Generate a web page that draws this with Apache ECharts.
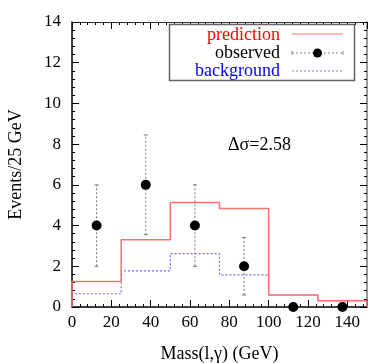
<!DOCTYPE html>
<html>
<head>
<meta charset="utf-8">
<script src="https://cdn.jsdelivr.net/npm/echarts@6/dist/echarts.min.js"></script>
<style>
  html, body { margin: 0; padding: 0; background: #fff; }
  .main { width: 374px; height: 363px; }
</style>
</head>
<body>
<div class="main"></div>
<script>
// bin left edges (GeV), last entry closes the histogram
var binEdges = [0, 25, 50, 75, 100, 125, 150];
var prediction = [1.25, 3.3, 5.13, 4.84, 0.59, 0.31];
var background = [0.65, 1.77, 2.62, 1.58, 0.59, 0.31];
var obsMass = [12.5, 37.5, 62.5, 87.5, 112.5, 137.5];
var observed = [4, 6, 4, 2, 0, 0];
var obsErr = [2, 2.45, 2, 1.41, 0, 0];

var FONT = 'Liberation Serif';

function histSteps(vals) {
    var pts = [[binEdges[0], 0]];
    for (var i = 0; i < vals.length; i++) pts.push([binEdges[i], vals[i]]);
    var last = binEdges[binEdges.length - 1];
    pts.push([last, vals[vals.length - 1]]);
    pts.push([last, 0]);
    return pts;
}

var obsData = obsMass.map(function (m, i) { return [m, observed[i]]; });
var errData = obsMass.map(function (m, i) {
    return [m, observed[i] - obsErr[i], observed[i] + obsErr[i]];
}).filter(function (d) { return d[2] > d[1]; });

var myChart = echarts.init(document.querySelector('.main'));

var tickStyle = {
    axisTick: { show: true, inside: true, length: 7, lineStyle: { color: '#000', width: 1 } },
    minorTick: { show: true, splitNumber: 5, length: 3, lineStyle: { color: '#000', width: 1 } },
    splitLine: { show: false }
};

function axis(extra) {
    return Object.assign({}, tickStyle, extra);
}

option = {
    animation: false,
    grid: { left: 72, right: 7, top: 22, bottom: 56, containLabel: false, outerBoundsMode: 'none' },
    xAxis: [
        axis({
            type: 'value', min: 0, max: 150, interval: 20,
            name: 'Mass(l,\u03b3) (GeV)', nameLocation: 'middle', nameGap: 38,
            nameTextStyle: { fontFamily: FONT, fontSize: 18, color: '#000' },
            axisLine: { show: true, onZero: false, lineStyle: { color: '#000', width: 1.5 } },
            axisLabel: { fontFamily: FONT, fontSize: 17, color: '#000', margin: 7, showMaxLabel: false }
        }),
        axis({
            type: 'value', min: 0, max: 150, interval: 20, position: 'top',
            axisLine: { show: true, onZero: false, lineStyle: { color: '#333', width: 1 } },
            axisLabel: { show: false }
        })
    ],
    yAxis: [
        axis({
            type: 'value', min: 0, max: 14, interval: 2,
            name: 'Events/25 GeV', nameLocation: 'middle', nameGap: 47,
            nameTextStyle: { fontFamily: FONT, fontSize: 18, color: '#000' },
            axisLine: { show: true, onZero: false, lineStyle: { color: '#000', width: 1.5 } },
            axisLabel: { fontFamily: FONT, fontSize: 17, color: '#000', margin: 11 }
        }),
        axis({
            type: 'value', min: 0, max: 14, interval: 2, position: 'right',
            axisLine: { show: true, onZero: false, lineStyle: { color: '#999', width: 2 } },
            axisLabel: { show: false }
        })
    ],
    graphic: [
        {
            type: 'text', left: 228, top: 136,
            style: { text: '\u0394\u03c3=2.58', font: '18px "Liberation Serif"', fill: '#000' }
        },
        {
            type: 'rect', shape: { x: 169.5, y: 24.5, width: 185, height: 56 },
            style: { fill: '#fff', stroke: '#666', lineWidth: 1.5 }, z: 50
        },
        {
            type: 'text', x: 280, y: 35, z: 51,
            style: { text: 'prediction', font: '18px "Liberation Serif"', fill: '#ff0000', align: 'right', verticalAlign: 'middle' }
        },
        {
            type: 'text', x: 280, y: 53, z: 51,
            style: { text: 'observed', font: '18px "Liberation Serif"', fill: '#000', align: 'right', verticalAlign: 'middle' }
        },
        {
            type: 'text', x: 280, y: 71.5, z: 51,
            style: { text: 'background', font: '18px "Liberation Serif"', fill: '#0000ff', align: 'right', verticalAlign: 'middle' }
        },
        { type: 'line', z: 51, shape: { x1: 292, y1: 34, x2: 343, y2: 34 }, style: { stroke: '#ff7070', lineWidth: 1.2 } },
        { type: 'line', z: 51, shape: { x1: 292, y1: 53, x2: 343, y2: 53 }, style: { stroke: '#888', lineWidth: 1, lineDash: [2, 2] } },
        { type: 'line', z: 51, shape: { x1: 292, y1: 51, x2: 292, y2: 55 }, style: { stroke: '#888', lineWidth: 1 } },
        { type: 'line', z: 51, shape: { x1: 343, y1: 51, x2: 343, y2: 55 }, style: { stroke: '#888', lineWidth: 1 } },
        { type: 'circle', z: 52, shape: { cx: 317.5, cy: 53, r: 4.5 }, style: { fill: '#000' } },
        { type: 'line', z: 51, shape: { x1: 292, y1: 71, x2: 343, y2: 71 }, style: { stroke: '#8080ff', lineWidth: 1, lineDash: [2, 2] } }
    ],
    series: [
        {
            name: 'background', type: 'line', step: 'end', symbol: 'none',
            data: histSteps(background),
            lineStyle: { color: '#7070ff', width: 1.2, type: [2, 2] },
            z: 3
        },
        {
            name: 'prediction', type: 'line', step: 'end', symbol: 'none',
            data: histSteps(prediction),
            lineStyle: { color: '#ff7070', width: 1.5 },
            z: 4
        },
        {
            name: 'errors', type: 'custom',
            data: errData,
            renderItem: function (params, api) {
                var x = api.value(0);
                var lo = api.coord([x, api.value(1)]);
                var hi = api.coord([x, api.value(2)]);
                var st = { stroke: '#777', lineWidth: 1, lineDash: [2, 2] };
                var cap = { stroke: '#777', lineWidth: 1 };
                return {
                    type: 'group',
                    children: [
                        { type: 'line', shape: { x1: lo[0], y1: lo[1], x2: hi[0], y2: hi[1] }, style: st },
                        { type: 'line', shape: { x1: lo[0] - 2, y1: lo[1], x2: lo[0] + 2, y2: lo[1] }, style: cap },
                        { type: 'line', shape: { x1: hi[0] - 2, y1: hi[1], x2: hi[0] + 2, y2: hi[1] }, style: cap }
                    ]
                };
            },
            z: 5
        },
        {
            name: 'observed', type: 'scatter', symbol: 'circle', symbolSize: 10,
            data: obsData, clip: false,
            itemStyle: { color: '#000', opacity: 1 },
            z: 10
        }
    ]
};

myChart.setOption(option);
</script>
</body>
</html>
